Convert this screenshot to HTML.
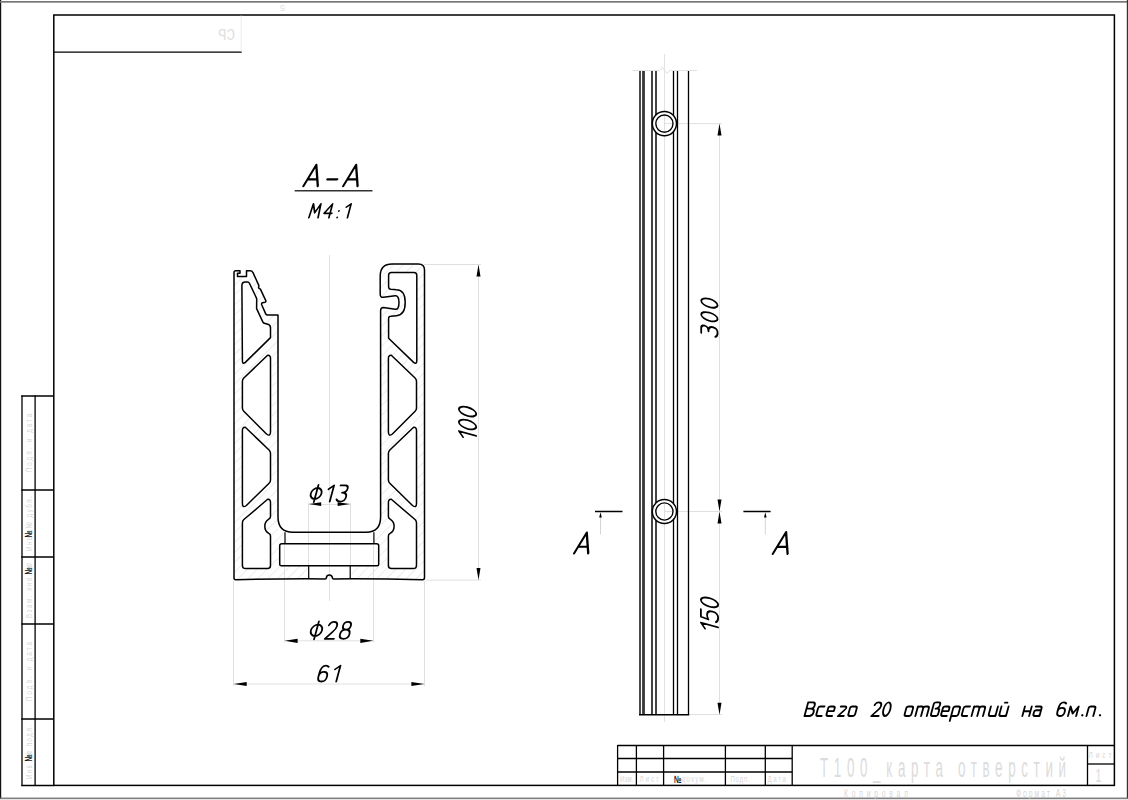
<!DOCTYPE html>
<html><head><meta charset="utf-8"><style>
html,body{margin:0;padding:0;background:#fff;width:1128px;height:800px;overflow:hidden}
svg{display:block}
.ft{font-family:"Liberation Sans",sans-serif;fill:#d4d4d4}
</style></head><body>
<svg width="1128" height="800" viewBox="0 0 1128 800">
<mask id="mk" maskUnits="userSpaceOnUse" x="220" y="250" width="220" height="340"><path d="M234,578.5 L234,272.6 Q234,270.7 235.8,270.7 L240,270.7 L240,273.3 L237.5,273.3 L237.5,276.6 L246.5,276.6 L246.5,270.8 L250.2,270.8 Q252,270.8 253,272.6 L258.9,285.6 L258.5,287.9 L260.4,289.1 L265.8,300.6 Q266.2,301.8 265,302.2 L262.4,302.8 Q261.2,303.3 261.7,304.8 L265.6,313.6 Q266.2,315 267.8,315 L278,315 L278,517 Q278,532.2 293,532.2 L366,532.2 Q380.6,532.2 380.6,517 L380.6,310.5 Q380.6,307.4 383.4,307.4 L395.2,309.3 Q399,309.8 399,302.5 Q399,295.4 395.2,295.8 L383.4,297.3 Q380.2,297.6 380.2,294.2 L380.2,276 Q380.2,264 392.2,264 L418.4,264 Q424.5,264 424.5,270.1 L424.5,577.8 Q424.5,579.7 422.6,579.7 Q378,578.6 333.6,578.9 Q332.6,578.9 332.4,578 A3.0,3.0 0 0 0 326.4,578 Q326.2,578.9 325.2,578.9 Q280,578.6 235.9,579.7 Q234,579.7 234,578.5 Z" fill="#fff"/><path d="M241.9,285.5 Q241.9,281.9 245.3,281.9 L247.6,281.9 Q248.8,281.9 249.4,283.2 L256.7,298.6 L256.6,308.6 L262.8,321.9 Q263.4,323.3 265,323.5 L268,324.2 Q270.5,325 270.5,328 L270.5,337.6 L245.3,362.4 Q242.4,364.8 242.4,360.6 Z" fill="#000" stroke="#000" stroke-width="1.5"/><path d="M270.5,358.5 Q270.5,355.0 267.6,355.3 L243.6,378.2 Q242.4,379.4 242.4,381.5 L242.4,408.0 Q242.4,410.0 243.8,411.2 L266.5,434.0 Q270.5,437.0 270.5,432.0 Z" fill="#000" stroke="#000" stroke-width="1.5"/><path d="M242.4,430.5 Q242.4,427.0 245.3,427.3 L269.3,450.2 Q270.5,451.4 270.5,453.5 L270.5,480.0 Q270.5,482.0 269.1,483.2 L246.4,505.5 Q242.4,508.5 242.4,503.5 Z" fill="#000" stroke="#000" stroke-width="1.5"/><path d="M270.5,502.5 Q270.5,499 267.6,499.3 L243.6,519.8 Q242.4,521 242.4,523 L242.4,565 Q242.4,568.6 245.5,568.6 L267.5,568.6 Q270.5,568.6 270.5,565.6 L270.5,536 Q270.5,534.3 268.8,533.4 C265.6,531.6 264.8,529.2 264.8,526.2 C264.8,523.2 265.6,520.9 268.8,519.1 Q270.5,518.2 270.5,516.5 Z" fill="#000" stroke="#000" stroke-width="1.5"/><g transform="translate(658.9,0) scale(-1,1)"><path d="M270.5,358.5 Q270.5,355.0 267.6,355.3 L243.6,378.2 Q242.4,379.4 242.4,381.5 L242.4,408.0 Q242.4,410.0 243.8,411.2 L266.5,434.0 Q270.5,437.0 270.5,432.0 Z" fill="#000" stroke="#000" stroke-width="1.5"/><path d="M242.4,430.5 Q242.4,427.0 245.3,427.3 L269.3,450.2 Q270.5,451.4 270.5,453.5 L270.5,480.0 Q270.5,482.0 269.1,483.2 L246.4,505.5 Q242.4,508.5 242.4,503.5 Z" fill="#000" stroke="#000" stroke-width="1.5"/><path d="M270.5,502.5 Q270.5,499 267.6,499.3 L243.6,519.8 Q242.4,521 242.4,523 L242.4,565 Q242.4,568.6 245.5,568.6 L267.5,568.6 Q270.5,568.6 270.5,565.6 L270.5,536 Q270.5,534.3 268.8,533.4 C265.6,531.6 264.8,529.2 264.8,526.2 C264.8,523.2 265.6,520.9 268.8,519.1 Q270.5,518.2 270.5,516.5 Z" fill="#000" stroke="#000" stroke-width="1.5"/></g><path d="M388.6,275.2 Q388.6,272.4 391.4,272.4 L414,272.4 Q416.8,272.4 416.8,275.2 L416.8,360.6 Q416.8,364.8 413.6,362.4 L388.6,338.2 L388.6,318.4 Q388.6,316.2 390.8,316.2 L396.5,315.8 Q405.2,315 405.2,302.6 Q405.2,290 396.5,289.8 L390.8,289.3 Q388.6,289 388.6,286.8 Z" fill="#000" stroke="#000" stroke-width="1.5"/><rect x="278" y="300" width="103" height="232" fill="#000"/><rect x="285" y="531" width="89" height="14" fill="#000"/><rect x="279" y="543" width="100.5" height="23.5" fill="#000"/><rect x="308.5" y="565" width="42" height="16" fill="#000"/></mask><pattern id="hp" patternUnits="userSpaceOnUse" width="7" height="7" patternTransform="rotate(-45)"><line x1="0" y1="3.5" x2="7" y2="3.5" stroke="#ececec" stroke-width="1.1"/></pattern><rect x="220" y="250" width="220" height="340" fill="url(#hp)" mask="url(#mk)"/>
<line x1="329.5" y1="255" x2="329.5" y2="601" stroke="#e2e2e2" stroke-width="1.0"/>
<line x1="424" y1="264.5" x2="481" y2="264.5" stroke="#e0e0e0" stroke-width="1.0"/>
<line x1="425.5" y1="580.1" x2="481" y2="580.1" stroke="#e0e0e0" stroke-width="1.0"/>
<line x1="478.5" y1="264.5" x2="478.5" y2="580.1" stroke="#e0e0e0" stroke-width="1.0"/>
<line x1="308.5" y1="503" x2="308.5" y2="565" stroke="#e0e0e0" stroke-width="1.0"/>
<line x1="350.5" y1="503" x2="350.5" y2="565" stroke="#e0e0e0" stroke-width="1.0"/>
<line x1="308.5" y1="504.5" x2="350.5" y2="504.5" stroke="#e0e0e0" stroke-width="1.0"/>
<line x1="284.5" y1="545" x2="284.5" y2="642.5" stroke="#e0e0e0" stroke-width="1.0"/>
<line x1="373.5" y1="545" x2="373.5" y2="642.5" stroke="#e0e0e0" stroke-width="1.0"/>
<line x1="284.5" y1="640.8" x2="373.5" y2="640.8" stroke="#e0e0e0" stroke-width="1.0"/>
<line x1="233.5" y1="581" x2="233.5" y2="686" stroke="#e0e0e0" stroke-width="1.0"/>
<line x1="424.5" y1="581" x2="424.5" y2="686" stroke="#e0e0e0" stroke-width="1.0"/>
<line x1="233.5" y1="684.0" x2="424.5" y2="684.0" stroke="#e0e0e0" stroke-width="1.0"/>
<line x1="664.5" y1="54" x2="664.5" y2="722" stroke="#e2e2e2" stroke-width="1.0"/>
<line x1="664.5" y1="123.6" x2="722" y2="123.6" stroke="#e0e0e0" stroke-width="1.0"/>
<line x1="664.5" y1="511.5" x2="722" y2="511.5" stroke="#e0e0e0" stroke-width="1.0"/>
<line x1="689" y1="714.5" x2="722" y2="714.5" stroke="#e0e0e0" stroke-width="1.0"/>
<line x1="719.5" y1="123.6" x2="719.5" y2="714.8" stroke="#e0e0e0" stroke-width="1.0"/>
<line x1="600.5" y1="517" x2="600.5" y2="534.5" stroke="#d0d0d0" stroke-width="0.9"/>
<line x1="765.3" y1="517" x2="765.3" y2="534.5" stroke="#d0d0d0" stroke-width="0.9"/>
<rect x="0" y="0" width="1.2" height="800" fill="#111"/>
<rect x="0" y="1" width="1128" height="1.7" fill="#777"/>
<rect x="1126.8" y="0" width="1.2" height="800" fill="#333"/>
<rect x="0" y="797.6" width="1128" height="1.3" fill="#666"/>
<rect x="0" y="798.9" width="1128" height="1.1" fill="#e4e4e4"/>
<rect x="53.8" y="15" width="1060.6" height="770.4" fill="none" stroke="#000" stroke-width="1.5"/>
<line x1="53.8" y1="52.1" x2="241.7" y2="52.1" stroke="#000" stroke-width="1.3"/>
<line x1="241.2" y1="15.5" x2="241.2" y2="51.5" stroke="#e6e6e6" stroke-width="0.8"/>
<line x1="21.3" y1="396" x2="53.8" y2="396" stroke="#000" stroke-width="1.3"/>
<line x1="21.3" y1="490" x2="53.8" y2="490" stroke="#000" stroke-width="1.3"/>
<line x1="21.3" y1="557" x2="53.8" y2="557" stroke="#000" stroke-width="1.3"/>
<line x1="21.3" y1="624" x2="53.8" y2="624" stroke="#000" stroke-width="1.3"/>
<line x1="21.3" y1="719" x2="53.8" y2="719" stroke="#000" stroke-width="1.3"/>
<line x1="21.3" y1="785.4" x2="53.8" y2="785.4" stroke="#000" stroke-width="1.5"/>
<line x1="22.0" y1="395.4" x2="22.0" y2="786" stroke="#000" stroke-width="1.3"/>
<line x1="35.1" y1="395.4" x2="35.1" y2="786" stroke="#000" stroke-width="1.3"/>
<line x1="617.6" y1="745.6" x2="1114.5" y2="745.6" stroke="#000" stroke-width="1.5"/>
<line x1="617.6" y1="758.5" x2="792.2" y2="758.5" stroke="#000" stroke-width="1.3"/>
<line x1="617.6" y1="772.0" x2="792.2" y2="772.0" stroke="#000" stroke-width="1.3"/>
<line x1="617.6" y1="745" x2="617.6" y2="786" stroke="#000" stroke-width="1.3"/>
<line x1="636.4" y1="745" x2="636.4" y2="786" stroke="#000" stroke-width="1.3"/>
<line x1="663.6" y1="745" x2="663.6" y2="786" stroke="#000" stroke-width="1.3"/>
<line x1="725.4" y1="745" x2="725.4" y2="786" stroke="#000" stroke-width="1.3"/>
<line x1="765.3" y1="745" x2="765.3" y2="786" stroke="#000" stroke-width="1.3"/>
<line x1="792.2" y1="745" x2="792.2" y2="786" stroke="#000" stroke-width="1.3"/>
<line x1="1087.5" y1="745" x2="1087.5" y2="786" stroke="#000" stroke-width="1.3"/>
<line x1="1087.5" y1="764" x2="1114.5" y2="764" stroke="#000" stroke-width="1.3"/>
<path d="M234,578.5 L234,272.6 Q234,270.7 235.8,270.7 L240,270.7 L240,273.3 L237.5,273.3 L237.5,276.6 L246.5,276.6 L246.5,270.8 L250.2,270.8 Q252,270.8 253,272.6 L258.9,285.6 L258.5,287.9 L260.4,289.1 L265.8,300.6 Q266.2,301.8 265,302.2 L262.4,302.8 Q261.2,303.3 261.7,304.8 L265.6,313.6 Q266.2,315 267.8,315 L278,315 L278,517 Q278,532.2 293,532.2 L366,532.2 Q380.6,532.2 380.6,517 L380.6,310.5 Q380.6,307.4 383.4,307.4 L395.2,309.3 Q399,309.8 399,302.5 Q399,295.4 395.2,295.8 L383.4,297.3 Q380.2,297.6 380.2,294.2 L380.2,276 Q380.2,264 392.2,264 L418.4,264 Q424.5,264 424.5,270.1 L424.5,577.8 Q424.5,579.7 422.6,579.7 Q378,578.6 333.6,578.9 Q332.6,578.9 332.4,578 A3.0,3.0 0 0 0 326.4,578 Q326.2,578.9 325.2,578.9 Q280,578.6 235.9,579.7 Q234,579.7 234,578.5 Z" fill="none" stroke="#000" stroke-width="1.5" stroke-linejoin="round"/>
<path d="M241.9,285.5 Q241.9,281.9 245.3,281.9 L247.6,281.9 Q248.8,281.9 249.4,283.2 L256.7,298.6 L256.6,308.6 L262.8,321.9 Q263.4,323.3 265,323.5 L268,324.2 Q270.5,325 270.5,328 L270.5,337.6 L245.3,362.4 Q242.4,364.8 242.4,360.6 Z" fill="none" stroke="#000" stroke-width="1.5" stroke-linejoin="round"/>
<path d="M270.5,358.5 Q270.5,355.0 267.6,355.3 L243.6,378.2 Q242.4,379.4 242.4,381.5 L242.4,408.0 Q242.4,410.0 243.8,411.2 L266.5,434.0 Q270.5,437.0 270.5,432.0 Z" fill="none" stroke="#000" stroke-width="1.5" stroke-linejoin="round"/>
<path d="M242.4,430.5 Q242.4,427.0 245.3,427.3 L269.3,450.2 Q270.5,451.4 270.5,453.5 L270.5,480.0 Q270.5,482.0 269.1,483.2 L246.4,505.5 Q242.4,508.5 242.4,503.5 Z" fill="none" stroke="#000" stroke-width="1.5" stroke-linejoin="round"/>
<path d="M270.5,502.5 Q270.5,499 267.6,499.3 L243.6,519.8 Q242.4,521 242.4,523 L242.4,565 Q242.4,568.6 245.5,568.6 L267.5,568.6 Q270.5,568.6 270.5,565.6 L270.5,536 Q270.5,534.3 268.8,533.4 C265.6,531.6 264.8,529.2 264.8,526.2 C264.8,523.2 265.6,520.9 268.8,519.1 Q270.5,518.2 270.5,516.5 Z" fill="none" stroke="#000" stroke-width="1.5" stroke-linejoin="round"/>
<g transform="translate(658.9,0) scale(-1,1)">
<path d="M270.5,358.5 Q270.5,355.0 267.6,355.3 L243.6,378.2 Q242.4,379.4 242.4,381.5 L242.4,408.0 Q242.4,410.0 243.8,411.2 L266.5,434.0 Q270.5,437.0 270.5,432.0 Z" fill="none" stroke="#000" stroke-width="1.5" stroke-linejoin="round"/>
<path d="M242.4,430.5 Q242.4,427.0 245.3,427.3 L269.3,450.2 Q270.5,451.4 270.5,453.5 L270.5,480.0 Q270.5,482.0 269.1,483.2 L246.4,505.5 Q242.4,508.5 242.4,503.5 Z" fill="none" stroke="#000" stroke-width="1.5" stroke-linejoin="round"/>
<path d="M270.5,502.5 Q270.5,499 267.6,499.3 L243.6,519.8 Q242.4,521 242.4,523 L242.4,565 Q242.4,568.6 245.5,568.6 L267.5,568.6 Q270.5,568.6 270.5,565.6 L270.5,536 Q270.5,534.3 268.8,533.4 C265.6,531.6 264.8,529.2 264.8,526.2 C264.8,523.2 265.6,520.9 268.8,519.1 Q270.5,518.2 270.5,516.5 Z" fill="none" stroke="#000" stroke-width="1.5" stroke-linejoin="round"/>
</g>
<path d="M388.6,275.2 Q388.6,272.4 391.4,272.4 L414,272.4 Q416.8,272.4 416.8,275.2 L416.8,360.6 Q416.8,364.8 413.6,362.4 L388.6,338.2 L388.6,318.4 Q388.6,316.2 390.8,316.2 L396.5,315.8 Q405.2,315 405.2,302.6 Q405.2,290 396.5,289.8 L390.8,289.3 Q388.6,289 388.6,286.8 Z" fill="none" stroke="#000" stroke-width="1.5" stroke-linejoin="round"/>
<path d="M285,532.2 L285,543.7 M373.9,532.2 L373.9,543.7" fill="none" stroke="#000" stroke-width="1.2" stroke-linejoin="round"/>
<path d="M281.8,543.7 L376.6,543.7 Q378.7,543.7 378.7,545.8 L378.7,564.3 Q378.7,565.8 377.2,565.8 L281.2,565.8 Q279.7,565.8 279.7,564.3 L279.7,545.8 Q279.7,543.7 281.8,543.7 Z" fill="none" stroke="#000" stroke-width="1.5" stroke-linejoin="round"/>
<path d="M308.7,565.8 L308.7,578.5 M350.2,565.8 L350.2,578.5" fill="none" stroke="#000" stroke-width="1.2" stroke-linejoin="round"/>
<path d="M478.5,264.5 L480.50,276.50 L476.50,276.50 Z" fill="#000"/>
<path d="M478.5,580.1 L476.50,568.10 L480.50,568.10 Z" fill="#000"/>
<path d="M308.7,504.1 L321.20,502.20 L321.20,506.00 Z" fill="#000"/>
<path d="M350.1,504.1 L337.60,506.00 L337.60,502.20 Z" fill="#000"/>
<path d="M284.6,640.8 L297.60,638.70 L297.60,642.90 Z" fill="#000"/>
<path d="M373.3,640.8 L360.30,642.90 L360.30,638.70 Z" fill="#000"/>
<path d="M233.7,684.0 L246.70,681.90 L246.70,686.10 Z" fill="#000"/>
<path d="M424.4,684.0 L411.40,686.10 L411.40,681.90 Z" fill="#000"/>
<line x1="294.7" y1="190.7" x2="372.5" y2="190.7" stroke="#333" stroke-width="1.4"/>
<line x1="640.0" y1="70.2" x2="640.0" y2="714.8" stroke="#4a4a4a" stroke-width="2.0"/>
<line x1="643.5" y1="70.2" x2="643.5" y2="714.8" stroke="#383838" stroke-width="2.8"/>
<line x1="652.0" y1="70.2" x2="652.0" y2="714.8" stroke="#444" stroke-width="2.0"/>
<line x1="656.0" y1="70.2" x2="656.0" y2="714.8" stroke="#444" stroke-width="2.0"/>
<line x1="673.5" y1="70.2" x2="673.5" y2="714.8" stroke="#000" stroke-width="1.3"/>
<line x1="677.5" y1="70.2" x2="677.5" y2="714.8" stroke="#000" stroke-width="1.3"/>
<line x1="688.5" y1="70.2" x2="688.5" y2="714.8" stroke="#000" stroke-width="1.3"/>
<line x1="639" y1="714.8" x2="689.2" y2="714.8" stroke="#000" stroke-width="1.5"/>
<path d="M632.4,70.5 L659.8,70.5 L662.5,67.3 L666.6,73.2 L670.4,70.5 L697.3,70.5" fill="none" stroke="#e2e2e2" stroke-width="1"/>
<circle cx="664.4" cy="123.6" r="12.1" fill="#fff" stroke="#000" stroke-width="1.5"/>
<line x1="664.5" y1="116.0" x2="664.5" y2="131.2" stroke="#dedede" stroke-width="1.0"/>
<line x1="664.5" y1="123.6" x2="672.5" y2="123.6" stroke="#dedede" stroke-width="1.0"/>
<circle cx="664.4" cy="123.6" r="8.6" fill="none" stroke="#000" stroke-width="1.4"/>
<circle cx="664.4" cy="511.5" r="12.1" fill="#fff" stroke="#000" stroke-width="1.5"/>
<line x1="664.5" y1="503.9" x2="664.5" y2="519.1" stroke="#dedede" stroke-width="1.0"/>
<line x1="664.5" y1="511.5" x2="672.5" y2="511.5" stroke="#dedede" stroke-width="1.0"/>
<circle cx="664.4" cy="511.5" r="8.6" fill="none" stroke="#000" stroke-width="1.4"/>
<path d="M719.5,123.6 L721.50,135.60 L717.50,135.60 Z" fill="#000"/>
<path d="M719.5,511.5 L717.50,499.50 L721.50,499.50 Z" fill="#000"/>
<path d="M719.5,511.5 L721.50,523.50 L717.50,523.50 Z" fill="#000"/>
<path d="M719.5,714.8 L717.50,702.80 L721.50,702.80 Z" fill="#000"/>
<line x1="595" y1="511.5" x2="622.5" y2="511.5" stroke="#000" stroke-width="1.5"/>
<line x1="743.4" y1="511.5" x2="770.6" y2="511.5" stroke="#000" stroke-width="1.5"/>
<path d="M600.5,512.3 L601.80,517.50 L599.20,517.50 Z" fill="#000"/>
<path d="M765.3,512.3 L766.60,517.50 L764.00,517.50 Z" fill="#000"/>
<g transform="translate(303.40,186.10) scale(2.1200) skewX(-15)" fill="none" stroke="#000" stroke-width="1.038" stroke-linecap="round" stroke-linejoin="round"><path transform="translate(0.000,0)" d="M0,0 L3.4,-10 L6.8,0 M1.2,-3.2 L5.6,-3.2"/><path transform="translate(10.033,0)" d="M0.4,-3.2 L5.1,-3.2"/><path transform="translate(18.766,0)" d="M0,0 L3.4,-10 L6.8,0 M1.2,-3.2 L5.6,-3.2"/></g>
<g transform="translate(308.85,217.75) scale(1.3900) skewX(-15)" fill="none" stroke="#000" stroke-width="1.223" stroke-linecap="round" stroke-linejoin="round"><path transform="translate(0.000,0)" d="M0,0 L0.6,-10 L3.3,-3.6 L6.0,-10 L6.6,0"/><path transform="translate(10.117,0)" d="M4.3,0 L4.3,-10 L0,-3.2 L5.6,-3.2"/><path transform="translate(19.235,0)" d="M1.1,-5.0 L1.1,-4.8 M1.1,-0.3 L1.1,-0.1"/><path transform="translate(24.952,0)" d="M0,-7.6 L2.8,-10 L2.8,0"/></g>
<g transform="translate(308.47,501.60) scale(1.6200) skewX(-15)" fill="none" stroke="#000" stroke-width="1.111" stroke-linecap="round" stroke-linejoin="round"><path transform="translate(0.000,0)" d="M3.4,-10.3 L3.4,0.3 M3.4,-8.4 C5.223,-8.4 6.699999999999999,-6.878 6.699999999999999,-5 C6.699999999999999,-3.122 5.223,-1.6 3.4,-1.6 C1.577,-1.6 0.10000000000000009,-3.122 0.10000000000000009,-5 C0.10000000000000009,-6.878 1.577,-8.4 3.4,-8.4 Z"/><path transform="translate(10.320,0)" d="M0,-7.6 L2.8,-10 L2.8,0"/><path transform="translate(16.840,0)" d="M0.3,-10 L3.2,-10 Q5.2,-10 5.2,-7.9 Q5.2,-5.6 2.4,-5.6 Q5.6,-5.6 5.6,-2.8 Q5.6,0 2.8,0 Q0.9,0 0.1,-1.4"/></g>
<g transform="translate(308.47,638.80) scale(1.6900) skewX(-15)" fill="none" stroke="#000" stroke-width="1.065" stroke-linecap="round" stroke-linejoin="round"><path transform="translate(0.000,0)" d="M3.4,-10.3 L3.4,0.3 M3.4,-8.4 C5.223,-8.4 6.699999999999999,-6.878 6.699999999999999,-5 C6.699999999999999,-3.122 5.223,-1.6 3.4,-1.6 C1.577,-1.6 0.10000000000000009,-3.122 0.10000000000000009,-5 C0.10000000000000009,-6.878 1.577,-8.4 3.4,-8.4 Z"/><path transform="translate(9.664,0)" d="M0.3,-8 Q0.9,-10 2.7,-10 Q5.2,-10 5.2,-7.4 Q5.2,-5.8 3.5,-4.1 L0,0 L5.4,0"/><path transform="translate(17.929,0)" d="M2.8,-5.4 Q0.5,-5.4 0.5,-7.7 Q0.5,-10 2.8,-10 Q5.1,-10 5.1,-7.7 Q5.1,-5.4 2.8,-5.4 Q0,-5.4 0,-2.7 Q0,0 2.8,0 Q5.6,0 5.6,-2.7 Q5.6,-5.4 2.8,-5.4 Z"/></g>
<g transform="translate(317.11,681.50) scale(1.5900) skewX(-15)" fill="none" stroke="#000" stroke-width="1.132" stroke-linecap="round" stroke-linejoin="round"><path transform="translate(0.000,0)" d="M4.8,-9.2 Q4,-10 2.8,-10 Q0,-10 0,-5.2 L0,-3 Q0,0 2.7,0 Q5.4,0 5.4,-3 Q5.4,-6 2.7,-6 Q0,-6 0,-3"/><path transform="translate(9.229,0)" d="M0,-7.6 L2.8,-10 L2.8,0"/></g>
<g transform="translate(476.20,440.62) rotate(-90) scale(1.7300) skewX(-15)" fill="none" stroke="#000" stroke-width="1.040" stroke-linecap="round" stroke-linejoin="round"><path transform="translate(0.000,0)" d="M0,-7.6 L2.8,-10 L2.8,0"/><path transform="translate(5.481,0)" d="M2.5,-10 C3.881,-10 5.0,-7.761 5.0,-5 C5.0,-2.239 3.881,0 2.5,0 C1.119,0 0.0,-2.239 0.0,-5 C0.0,-7.761 1.119,-10 2.5,-10 Z"/><path transform="translate(12.961,0)" d="M2.5,-10 C3.881,-10 5.0,-7.761 5.0,-5 C5.0,-2.239 3.881,0 2.5,0 C1.119,0 0.0,-2.239 0.0,-5 C0.0,-7.761 1.119,-10 2.5,-10 Z"/></g>
<g transform="translate(717.60,337.68) rotate(-90) scale(1.6400) skewX(-15)" fill="none" stroke="#000" stroke-width="1.098" stroke-linecap="round" stroke-linejoin="round"><path transform="translate(0.000,0)" d="M0.3,-10 L3.2,-10 Q5.2,-10 5.2,-7.9 Q5.2,-5.6 2.4,-5.6 Q5.6,-5.6 5.6,-2.8 Q5.6,0 2.8,0 Q0.9,0 0.1,-1.4"/><path transform="translate(8.937,0)" d="M2.5,-10 C3.881,-10 5.0,-7.761 5.0,-5 C5.0,-2.239 3.881,0 2.5,0 C1.119,0 0.0,-2.239 0.0,-5 C0.0,-7.761 1.119,-10 2.5,-10 Z"/><path transform="translate(17.274,0)" d="M2.5,-10 C3.881,-10 5.0,-7.761 5.0,-5 C5.0,-2.239 3.881,0 2.5,0 C1.119,0 0.0,-2.239 0.0,-5 C0.0,-7.761 1.119,-10 2.5,-10 Z"/></g>
<g transform="translate(718.10,632.10) rotate(-90) scale(1.7200) skewX(-15)" fill="none" stroke="#000" stroke-width="1.047" stroke-linecap="round" stroke-linejoin="round"><path transform="translate(0.000,0)" d="M0,-7.6 L2.8,-10 L2.8,0"/><path transform="translate(5.421,0)" d="M5.2,-10 L0.9,-10 L0.4,-5.6 Q1.4,-6.4 2.8,-6.4 Q5.6,-6.4 5.6,-3.2 Q5.6,0 2.8,0 Q0.9,0 0,-1.3"/><path transform="translate(13.441,0)" d="M2.5,-10 C3.881,-10 5.0,-7.761 5.0,-5 C5.0,-2.239 3.881,0 2.5,0 C1.119,0 0.0,-2.239 0.0,-5 C0.0,-7.761 1.119,-10 2.5,-10 Z"/></g>
<g transform="translate(574.10,553.40) scale(2.0800) skewX(-15)" fill="none" stroke="#000" stroke-width="1.058" stroke-linecap="round" stroke-linejoin="round"><path transform="translate(0.000,0)" d="M0,0 L3.4,-10 L6.8,0 M1.2,-3.2 L5.6,-3.2"/></g>
<g transform="translate(772.80,553.90) scale(2.1800) skewX(-15)" fill="none" stroke="#000" stroke-width="1.009" stroke-linecap="round" stroke-linejoin="round"><path transform="translate(0.000,0)" d="M0,0 L3.4,-10 L6.8,0 M1.2,-3.2 L5.6,-3.2"/></g>
<g transform="translate(0.00,716.00) scale(1.3600) skewX(-15)" fill="none" stroke="#000" stroke-width="1.360" stroke-linecap="round" stroke-linejoin="round"><path transform="translate(591.548,0)" d="M0,0 L0,-10 L3.6,-10 Q5.4,-10 5.4,-7.8 Q5.4,-5.4 3.2,-5.4 L0.2,-5.4 M3.2,-5.4 Q6,-5.4 6,-2.7 Q6,0 3.4,0 L0,0"/><path transform="translate(599.950,0)" d="M4.4,-7 L1.2,-7 Q0,-7 0,-5.6 L0,-1.4 Q0,0 1.2,0 L4.2,0"/><path transform="translate(607.397,0)" d="M0.1,-3.6 L4.8,-3.6 L4.8,-5.6 Q4.8,-7 3.4,-7 L1.4,-7 Q0,-7 0,-5.6 L0,-1.4 Q0,0 1.4,0 L4.4,0"/><path transform="translate(615.987,0)" d="M0.4,-7 L3.4,-7 Q4.8,-7 4.6,-5.6 Q4.4,-4.8 3.6,-4.2 L0.1,0 L4.4,0"/><path transform="translate(623.437,0)" d="M1.4,-7 L3.6,-7 Q5,-7 5,-5.6 L5,-1.4 Q5,0 3.6,0 L1.4,0 Q0,0 0,-1.4 L0,-5.6 Q0,-7 1.4,-7 Z"/><path transform="translate(640.656,0)" d="M0.3,-8 Q0.9,-10 2.7,-10 Q5.2,-10 5.2,-7.4 Q5.2,-5.8 3.5,-4.1 L0,0 L5.4,0"/><path transform="translate(648.293,0)" d="M2.5,-10 C3.881,-10 5.0,-7.761 5.0,-5 C5.0,-2.239 3.881,0 2.5,0 C1.119,0 0.0,-2.239 0.0,-5 C0.0,-7.761 1.119,-10 2.5,-10 Z"/><path transform="translate(664.834,0)" d="M1.4,-7 L3.6,-7 Q5,-7 5,-5.6 L5,-1.4 Q5,0 3.6,0 L1.4,0 Q0,0 0,-1.4 L0,-5.6 Q0,-7 1.4,-7 Z"/><path transform="translate(673.061,0)" d="M0,0 L0,-7 M0,-5.6 Q0,-7 1.5,-7 L2.8,-7 Q4.2,-7 4.2,-5.6 L4.2,0 M4.2,-5.6 Q4.2,-7 5.7,-7 L7,-7 Q8.4,-7 8.4,-5.6 L8.4,0"/><path transform="translate(684.238,0)" d="M0,-1.4 L0,-8.6 Q0,-10 1.4,-10 L3.4,-10 Q4.8,-10 4.8,-8.4 Q4.8,-5.4 2.2,-5.4 L3.8,-5.4 Q5.2,-5.4 5.2,-4 L5.2,-1.4 Q5.2,0 3.8,0 L1.4,0 Q0,0 0,-1.4"/><path transform="translate(691.736,0)" d="M0.1,-3.6 L4.8,-3.6 L4.8,-5.6 Q4.8,-7 3.4,-7 L1.4,-7 Q0,-7 0,-5.6 L0,-1.4 Q0,0 1.4,0 L4.4,0"/><path transform="translate(699.324,0)" d="M0,3.6 L0,-5.6 Q0,-7 1.4,-7 L3.6,-7 Q5,-7 5,-5.6 L5,-1.4 Q5,0 3.6,0 L0,0"/><path transform="translate(706.936,0)" d="M4.4,-7 L1.2,-7 Q0,-7 0,-5.6 L0,-1.4 Q0,0 1.2,0 L4.2,0"/><path transform="translate(714.384,0)" d="M0,0 L0,-7 M0,-5.6 Q0,-7 1.5,-7 L2.8,-7 Q4.2,-7 4.2,-5.6 L4.2,0 M4.2,-5.6 Q4.2,-7 5.7,-7 L7,-7 Q8.4,-7 8.4,-5.6 L8.4,0"/><path transform="translate(726.720,0)" d="M0,-7 L0,-1.4 Q0,0 1.4,0 L3.8,0 Q5.2,0 5.2,-1.4 M5.2,-7 L5.2,0"/><path transform="translate(734.514,0)" d="M0,-7 L0,-1.4 Q0,0 1.4,0 L3.8,0 Q5.2,0 5.2,-1.4 M5.2,-7 L5.2,0 M1.8,-9.8 L3.6,-9.8"/><path transform="translate(751.746,0)" d="M0,-7 L0,0 M0,-3.5 L5,-3.5 M5,-7 L5,0"/><path transform="translate(759.530,0)" d="M0.2,-7 L3.4,-7 Q4.8,-7 4.8,-5.6 L4.8,0 M4.8,-1.4 Q4.8,0 3.4,0 L1.4,0 Q0,0 0,-1.4 L0,-2.8 Q0,-4.2 1.4,-4.2 L4.8,-4.2"/><path transform="translate(776.662,0)" d="M4.8,-9.2 Q4,-10 2.8,-10 Q0,-10 0,-5.2 L0,-3 Q0,0 2.7,0 Q5.4,0 5.4,-3 Q5.4,-6 2.7,-6 Q0,-6 0,-3"/><path transform="translate(785.290,0)" d="M0,0 L0,-7 L3,-1.8 L6,-7 L6,0"/><path transform="translate(795.161,0)" d="M0.3,-0.7 L0.7,-0.4"/><path transform="translate(798.878,0)" d="M0,0 L0,-5.6 Q0,-7 1.4,-7 L3.6,-7 Q5,-7 5,-5.6 L5,0"/><path transform="translate(808.176,0)" d="M0.3,-0.7 L0.7,-0.4"/></g>
<g transform="translate(820,776.8) scale(0.47,1)"><text x="0" y="0" font-family="Liberation Sans, sans-serif" font-size="28.5" fill="#dcdcdc" font-weight="normal" textLength="523.4" lengthAdjust="spacing">Т100_карта отверстий</text></g>
<g transform="translate(1088.5,758) scale(0.7,1)"><text x="0" y="0" font-family="Liberation Sans, sans-serif" font-size="9.5" fill="#d8d8d8" font-weight="normal" textLength="32.9" lengthAdjust="spacing">Лист</text></g>
<g transform="translate(1095.5,782) scale(0.6,1)"><text x="0" y="0" font-family="Liberation Sans, sans-serif" font-size="18" fill="#dcdcdc" font-weight="normal" textLength="8.3" lengthAdjust="spacing">1</text></g>
<g transform="translate(844,796.8) scale(0.65,1)"><text x="0" y="0" font-family="Liberation Sans, sans-serif" font-size="10.5" fill="#d8d8d8" font-weight="normal" textLength="98.5" lengthAdjust="spacing">Копировал</text></g>
<g transform="translate(1016,796.8) scale(0.65,1)"><text x="0" y="0" font-family="Liberation Sans, sans-serif" font-size="10.5" fill="#d8d8d8" font-weight="normal" textLength="76.9" lengthAdjust="spacing">Формат А3</text></g>
<g transform="translate(620,782) scale(0.65,1)"><text x="0" y="0" font-family="Liberation Sans, sans-serif" font-size="9.5" fill="#d8d8d8" font-weight="normal" textLength="20.9" lengthAdjust="spacing">Изм.</text></g>
<g transform="translate(639.5,782) scale(0.65,1)"><text x="0" y="0" font-family="Liberation Sans, sans-serif" font-size="9.5" fill="#d8d8d8" font-weight="normal" textLength="29.7" lengthAdjust="spacing">Лист</text></g>
<g transform="translate(681.6,782) scale(0.65,1)"><text x="0" y="0" font-family="Liberation Sans, sans-serif" font-size="9.5" fill="#d8d8d8" font-weight="normal" textLength="38.8" lengthAdjust="spacing">докум.</text></g>
<g transform="translate(730.4,782) scale(0.65,1)"><text x="0" y="0" font-family="Liberation Sans, sans-serif" font-size="9.5" fill="#d8d8d8" font-weight="normal" textLength="29.8" lengthAdjust="spacing">Подп.</text></g>
<g transform="translate(767.5,782) scale(0.65,1)"><text x="0" y="0" font-family="Liberation Sans, sans-serif" font-size="9.5" fill="#d8d8d8" font-weight="normal" textLength="28.5" lengthAdjust="spacing">Дата</text></g>
<g transform="translate(674,782.5) scale(0.6,1)"><text x="0" y="0" font-family="Liberation Sans, sans-serif" font-size="11" fill="#111" font-weight="bold" textLength="10.0" lengthAdjust="spacing">№</text></g>
<g transform="translate(31.8,472.1) rotate(-90) scale(0.65,1)"><text x="0" y="0" font-family="Liberation Sans, sans-serif" font-size="9.5" fill="#d8d8d8" font-weight="normal" textLength="89.7" lengthAdjust="spacing">Подп. и дата</text></g>
<g transform="translate(31.8,551.0) rotate(-90) scale(0.65,1)"><text x="0" y="0" font-family="Liberation Sans, sans-serif" font-size="9.5" fill="#d8d8d8" font-weight="normal" textLength="84.5" lengthAdjust="spacing">Инв. № дубл.</text></g>
<g transform="translate(31.8,618.0) rotate(-90) scale(0.65,1)"><text x="0" y="0" font-family="Liberation Sans, sans-serif" font-size="9.5" fill="#d8d8d8" font-weight="normal" textLength="84.5" lengthAdjust="spacing">Взам. инв. №</text></g>
<g transform="translate(31.8,701.0) rotate(-90) scale(0.65,1)"><text x="0" y="0" font-family="Liberation Sans, sans-serif" font-size="9.5" fill="#d8d8d8" font-weight="normal" textLength="90.6" lengthAdjust="spacing">Подп. и дата</text></g>
<g transform="translate(31.8,779.1) rotate(-90) scale(0.65,1)"><text x="0" y="0" font-family="Liberation Sans, sans-serif" font-size="9.5" fill="#d8d8d8" font-weight="normal" textLength="83.2" lengthAdjust="spacing">Инв. № подл.</text></g>
<g transform="translate(32.3,537.5) rotate(-90) scale(0.6,1)"><text x="0" y="0" font-family="Liberation Sans, sans-serif" font-size="10.5" fill="#111" font-weight="bold" textLength="10.8" lengthAdjust="spacing">№</text></g>
<g transform="translate(32.3,574.5) rotate(-90) scale(0.6,1)"><text x="0" y="0" font-family="Liberation Sans, sans-serif" font-size="10.5" fill="#111" font-weight="bold" textLength="10.8" lengthAdjust="spacing">№</text></g>
<g transform="translate(32.3,761.5) rotate(-90) scale(0.6,1)"><text x="0" y="0" font-family="Liberation Sans, sans-serif" font-size="10.5" fill="#111" font-weight="bold" textLength="10.8" lengthAdjust="spacing">№</text></g>
<g transform="translate(235,40) scale(-1,1)"><text x="0" y="0" font-family="Liberation Mono, monospace" font-size="16" fill="#e0e0e0" textLength="17" lengthAdjust="spacingAndGlyphs">CP</text></g>
<text x="0" y="0" transform="translate(285,4.5) rotate(180)" font-family="Liberation Sans, sans-serif" font-size="9" fill="#e0e0e0">5</text>
</svg></body></html>
